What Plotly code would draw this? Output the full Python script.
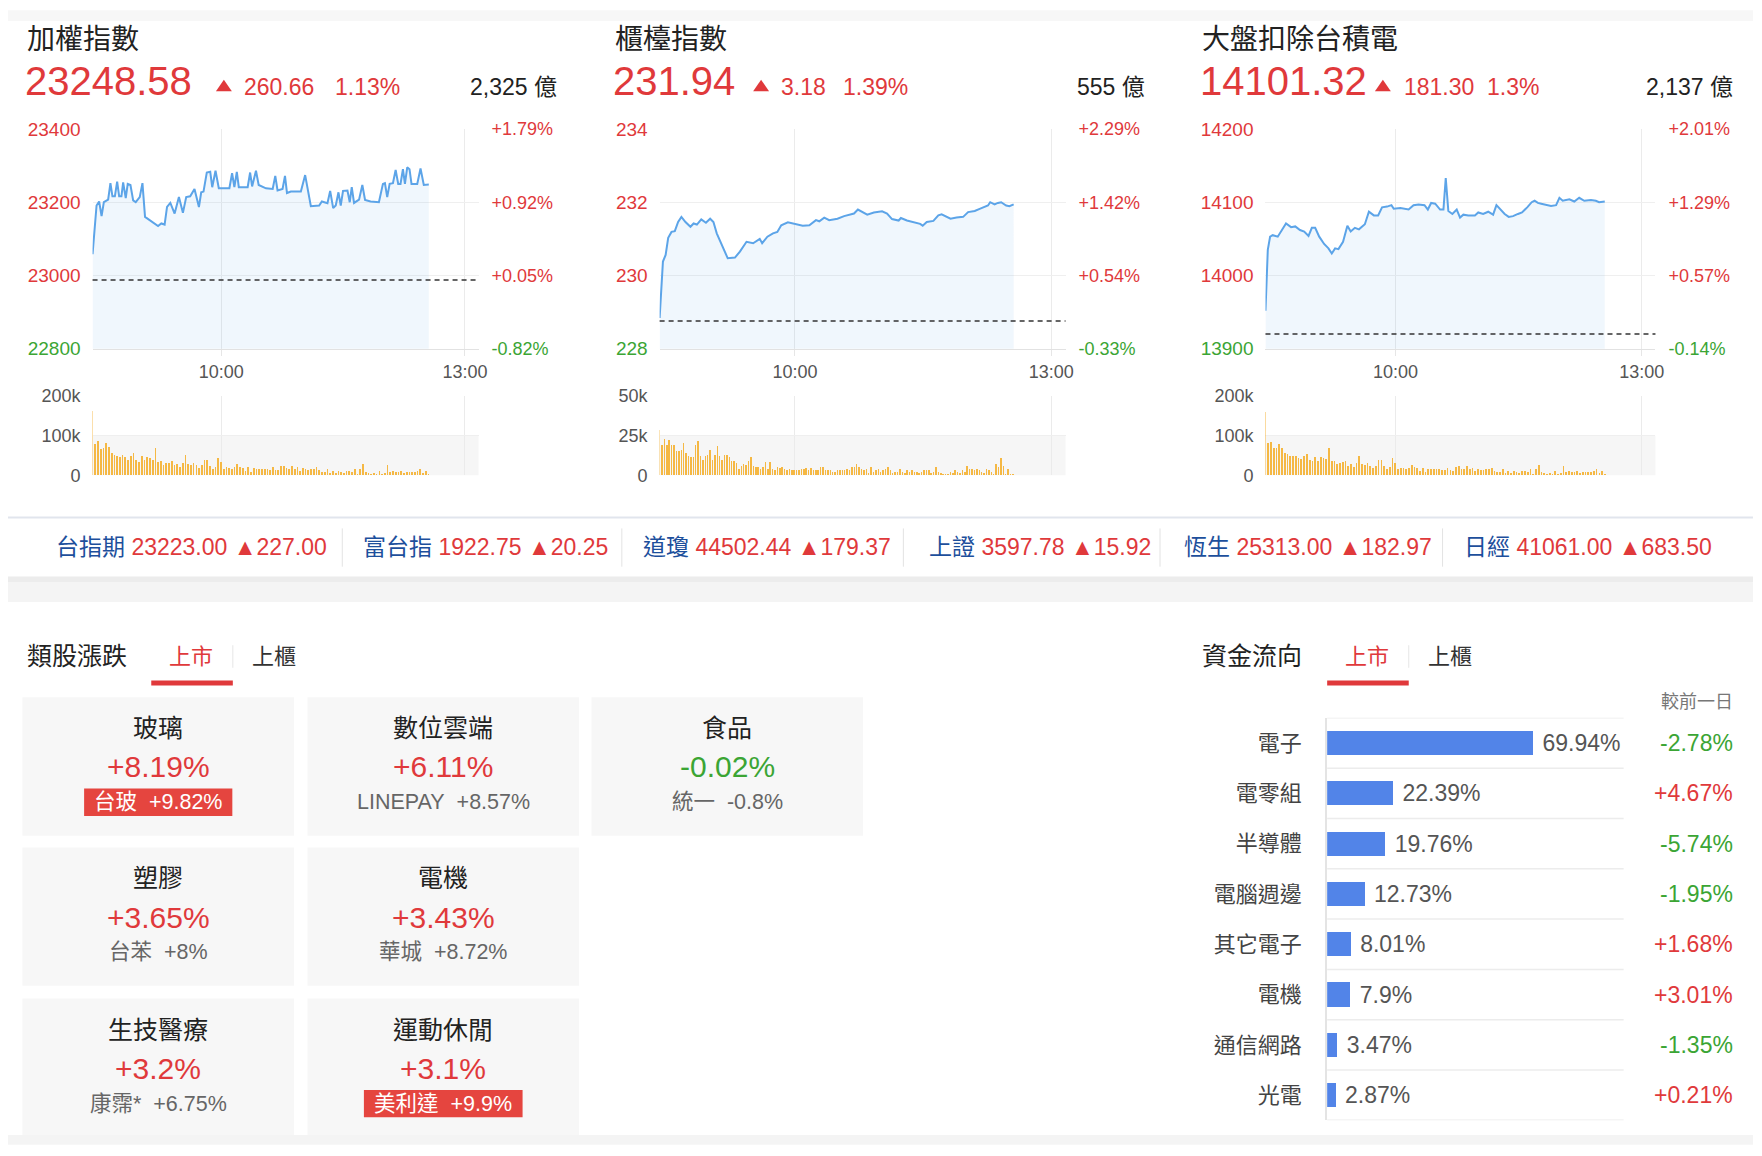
import plotly.graph_objects as go
import numpy as np

# page size and the browser's default body margin (the figure sits inside it)
W, H = 1762, 1156
OFF = 8
FW, FH = W - 2 * OFF, H - 2 * OFF

RED = "#e0393b"
GREEN = "#3ba534"
BLUE = "#1d4f9c"
DARK = "#222222"
GRAY = "#666666"
AXIS_TXT = "#555555"
LINE_C = "#5ca4e8"
FILL_C = "rgba(92,164,232,0.09)"
VOL_C = "#f5b844"
BAR_C = "#5284e8"
CARD_BG = "#f7f7f7"
FONT = "Liberation Sans, Noto Sans CJK TC, sans-serif"

# ---------------- data ----------------
index_names = ["加權指數", "櫃檯指數", "大盤扣除台積電"]
index_last = ["23248.58", "231.94", "14101.32"]
index_change = ["260.66", "3.18", "181.30"]
index_change_pct = ["1.13%", "1.39%", "1.3%"]
index_turnover = ["2,325 億", "555 億", "2,137 億"]
prev_close = [22987.92, 228.76, 13920.02]

price_ticks = [[22800, 23000, 23200, 23400], [228, 230, 232, 234], [13900, 14000, 14100, 14200]]
price_tick_text = [["22800", "23000", "23200", "23400"], ["228", "230", "232", "234"],
                   ["13900", "14000", "14100", "14200"]]
pct_tick_text = [["-0.82%", "+0.05%", "+0.92%", "+1.79%"], ["-0.33%", "+0.54%", "+1.42%", "+2.29%"],
                 ["-0.14%", "+0.57%", "+1.29%", "+2.01%"]]
vol_ticks = [[0, 100, 200], [0, 25, 50], [0, 100, 200]]
vol_tick_text = [["0", "100k", "200k"], ["0", "25k", "50k"], ["0", "100k", "200k"]]
session_len = 270
time_tick_pos = [90, 260.5]
time_tick_text = ["10:00", "13:00"]
vol_last_pos = 235

# 加權指數 intraday
taiex_t = [0, 2.8, 4.6, 6.3, 7.9, 10.9, 12.5, 13.9, 15.6, 17.2,
           18.6, 20.2, 21.4, 23.2, 24.6, 26.5, 28.4, 30.2, 33.0, 34.9,
           36.7, 41.1, 45.8, 48.1, 50.4, 52.1, 54.4, 57.4, 60.4, 63.2,
           65.5, 68.3, 71.3, 74.4, 76.0, 77.6, 79.9, 82.3, 83.7, 86.0,
           88.3, 95.7, 97.6, 99.2, 100.9, 102.3, 108.5, 110.2, 111.6, 114.3,
           116.2, 121.3, 126.0, 127.8, 129.4, 132.9, 134.6, 136.0, 138.7, 145.7,
           148.7, 152.7, 158.5, 160.4, 164.3, 166.2, 168.3, 170.1, 172.0, 173.6,
           175.2, 178.3, 179.9, 181.3, 182.9, 186.4, 188.7, 190.6, 194.5, 200.3,
           203.1, 204.5, 206.1, 207.8, 210.1, 212.0, 213.8, 215.4, 217.1, 218.5,
           220.1, 221.7, 223.1, 227.1, 229.4, 231.7, 235.2]
taiex_v = [23058, 23191, 23202, 23162, 23200, 23207, 23252, 23216, 23216, 23256,
           23216, 23216, 23254, 23211, 23250, 23247, 23205, 23200, 23214, 23252,
           23160, 23148, 23135, 23142, 23139, 23187, 23198, 23169, 23214, 23171,
           23214, 23216, 23236, 23187, 23227, 23229, 23281, 23283, 23241, 23286,
           23238, 23238, 23279, 23241, 23283, 23241, 23241, 23281, 23243, 23286,
           23247, 23238, 23236, 23272, 23232, 23236, 23272, 23225, 23229, 23229,
           23274, 23189, 23191, 23202, 23197, 23231, 23184, 23191, 23227, 23191,
           23231, 23232, 23200, 23241, 23198, 23207, 23247, 23206, 23202, 23200,
           23250, 23252, 23214, 23250, 23252, 23288, 23250, 23250, 23290, 23250,
           23295, 23290, 23250, 23250, 23292, 23247, 23248]

# 櫃檯指數 intraday
otc_t = [0, 2.2, 4.0, 5.7, 7.9, 10.1, 12.3, 14.5, 17.2, 20.5,
         22.6, 24.8, 27.7, 30.8, 33.6, 35.8, 38.0, 41.3, 45.3, 50.1,
         53.4, 57.8, 62.2, 66.6, 68.2, 71.7, 75.4, 78.3, 80.9, 85.3,
         90.8, 95.2, 99.6, 104.0, 106.2, 109.5, 112.8, 118.3, 122.7, 127.1,
         129.3, 131.9, 134.8, 138.1, 142.5, 148.0, 151.3, 154.6, 159.0, 160.5,
         164.5, 170.0, 173.3, 175.0, 177.7, 182.1, 185.4, 187.6, 190.4, 193.5,
         197.5, 201.9, 205.2, 209.6, 212.9, 216.2, 218.4, 219.9, 222.8, 225.0,
         227.2, 230.5, 232.7, 235.5]
otc_v = [228.84, 230.38, 230.56, 231.03, 231.19, 231.21, 231.46, 231.60, 231.46, 231.33,
         231.42, 231.39, 231.53, 231.44, 231.55, 231.46, 231.15, 230.83, 230.47, 230.49,
         230.65, 230.92, 230.88, 231.00, 230.88, 231.06, 231.15, 231.19, 231.37, 231.45,
         231.39, 231.36, 231.37, 231.51, 231.48, 231.58, 231.51, 231.55, 231.62, 231.66,
         231.69, 231.80, 231.73, 231.66, 231.72, 231.75, 231.69, 231.54, 231.50, 231.57,
         231.50, 231.45, 231.41, 231.36, 231.46, 231.49, 231.64, 231.67, 231.62, 231.55,
         231.58, 231.60, 231.73, 231.76, 231.82, 231.87, 231.91, 232.00, 231.94, 231.98,
         232.00, 231.91, 231.89, 231.94]

# 大盤扣除台積電 intraday
extsmc_t = [0, 1.6, 3.2, 5.0, 8.5, 10.8, 14.2, 17.7, 20.6, 23.9,
            26.8, 29.8, 32.1, 34.4, 37.2, 40.6, 43.6, 45.9, 48.2, 50.5,
            53.7, 56.7, 59.0, 61.9, 64.7, 68.8, 71.6, 75.0, 78.0, 80.7,
            84.2, 87.2, 88.8, 93.4, 99.1, 102.5, 106.0, 110.1, 112.4, 114.7,
            117.5, 120.9, 123.2, 124.8, 126.6, 129.4, 132.4, 134.7, 137.0, 140.4,
            145.0, 147.3, 150.7, 154.2, 157.6, 159.9, 162.9, 165.6, 168.4, 171.4,
            174.8, 177.6, 181.2, 184.3, 186.3, 188.6, 190.9, 193.6, 197.7, 201.2,
            203.5, 205.8, 210.4, 213.8, 217.2, 220.7, 225.3, 228.7, 231.0, 234.9]
extsmc_v = [13952, 14035, 14053, 14055, 14053, 14060, 14071, 14066, 14067, 14062,
            14060, 14054, 14065, 14065, 14053, 14043, 14037, 14030, 14037, 14036,
            14046, 14068, 14060, 14065, 14063, 14070, 14087, 14082, 14082, 14093,
            14094, 14096, 14091, 14092, 14090, 14096, 14097, 14096, 14090, 14099,
            14098, 14090, 14090, 14133, 14088, 14084, 14090, 14079, 14083, 14082,
            14082, 14086, 14084, 14087, 14083, 14096, 14090, 14084, 14080, 14081,
            14084, 14086, 14093, 14100, 14102, 14099, 14098, 14097, 14095, 14096,
            14106, 14102, 14104, 14101, 14106, 14102, 14103, 14102, 14100, 14101]

# volumes (k)
taiex_vol = [161, 80, 86, 66, 69, 81, 72, 57, 52, 49,
             47, 52, 46, 40, 49, 57, 40, 34, 49, 38,
             47, 44, 40, 69, 34, 37, 27, 32, 32, 37,
             25, 29, 21, 32, 52, 29, 25, 32, 25, 18,
             25, 40, 40, 24, 15, 20, 45, 34, 17, 20,
             18, 17, 20, 29, 21, 18, 12, 20, 8, 18,
             17, 17, 17, 17, 15, 13, 20, 13, 13, 24,
             24, 18, 17, 24, 17, 20, 12, 18, 15, 13,
             17, 17, 20, 13, 8, 8, 17, 7, 10, 5,
             10, 8, 5, 12, 10, 8, 17, 4, 17, 29,
             8, 5, 4, 7, 4, 12, 3, 7, 25, 8,
             10, 8, 8, 12, 5, 8, 8, 8, 8, 12,
             17, 7, 12, 3]
otc_vol = [28.4, 19.3, 23.1, 19.3, 22.5, 19.3, 19.3, 15.1, 15.1, 16.2,
           20.4, 14.1, 12.4, 11.6, 11.3, 19.3, 21.4, 12.4, 9.5, 12.0,
           13.0, 16.2, 9.5, 13.0, 18.3, 12.0, 9.5, 13.0, 13.0, 11.3,
           9.2, 9.2, 7.8, 4.0, 6.1, 7.4, 6.7, 9.2, 11.3, 6.1,
           5.3, 5.3, 4.0, 5.3, 8.2, 4.0, 8.2, 4.0, 3.6, 5.3,
           4.6, 5.3, 4.0, 3.2, 4.0, 3.2, 3.2, 3.2, 3.2, 4.0,
           4.0, 4.8, 3.2, 4.4, 3.2, 3.2, 3.2, 5.0, 5.0, 3.2,
           3.2, 3.2, 2.1, 2.1, 3.2, 3.2, 3.2, 3.2, 4.0, 3.6,
           5.0, 5.0, 7.1, 5.0, 4.0, 3.2, 4.0, 1.5, 5.0, 2.1,
           3.2, 4.0, 2.1, 3.2, 4.0, 5.0, 3.2, 1.5, 2.1, 2.1,
           4.0, 2.1, 1.5, 3.2, 2.1, 3.2, 2.1, 2.1, 1.5, 2.1,
           3.2, 3.2, 3.2, 1.5, 2.1, 5.0, 2.1, 1.5, 1.1, 1.1,
           1.1, 2.1, 1.5, 3.2, 2.1, 1.5, 3.2, 2.1, 6.1, 4.0,
           4.0, 3.2, 4.0, 3.2, 2.1, 1.5, 4.0, 3.2, 2.1, 1.1,
           7.1, 5.0, 10.9, 6.1, 1.1, 4.0, 1.1, 1.1]
extsmc_vol = [160, 82, 85, 68, 70, 80, 70, 56, 53, 48,
              48, 50, 45, 42, 48, 55, 40, 35, 47, 37,
              46, 44, 41, 70, 35, 36, 28, 31, 33, 36,
              24, 29, 22, 31, 50, 28, 26, 31, 24, 19,
              24, 38, 38, 23, 16, 20, 43, 32, 17, 19,
              18, 17, 19, 27, 20, 18, 12, 19, 9, 17,
              16, 17, 16, 17, 14, 13, 19, 13, 12, 22,
              23, 17, 16, 23, 16, 19, 12, 17, 14, 13,
              16, 16, 19, 12, 8, 8, 16, 7, 10, 5,
              10, 8, 5, 11, 10, 8, 16, 4, 16, 27,
              8, 5, 4, 7, 4, 11, 3, 7, 23, 8,
              10, 8, 8, 11, 5, 8, 8, 8, 8, 11,
              15, 7, 11, 4]

series_t = [taiex_t, otc_t, extsmc_t]
series_v = [taiex_v, otc_v, extsmc_v]
series_vol = [taiex_vol, otc_vol, extsmc_vol]

# tickers strip
ticker_names = ["台指期", "富台指", "道瓊", "上證", "恆生", "日經"]
ticker_values = ["23223.00", "1922.75", "44502.44", "3597.78", "25313.00", "41061.00"]
ticker_changes = ["227.00", "20.25", "179.37", "15.92", "182.97", "683.50"]

# sector cards
sector_names = ["玻璃", "數位雲端", "食品", "塑膠", "電機", "生技醫療", "運動休閒"]
sector_pct = ["+8.19%", "+6.11%", "-0.02%", "+3.65%", "+3.43%", "+3.2%", "+3.1%"]
leader_names = ["台玻", "LINEPAY", "統一", "台苯", "華城", "康霈*", "美利達"]
leader_pct = ["+9.82%", "+8.57%", "-0.8%", "+8%", "+8.72%", "+6.75%", "+9.9%"]
leader_limit_up = [True, False, False, False, False, False, True]

# fund flow
flow_sectors = ["電子", "電零組", "半導體", "電腦週邊", "其它電子", "電機", "通信網路", "光電"]
flow_share = [69.94, 22.39, 19.76, 12.73, 8.01, 7.9, 3.47, 2.87]
flow_change = ["-2.78%", "+4.67%", "-5.74%", "-1.95%", "+1.68%", "+3.01%", "-1.35%", "+0.21%"]

# ---------------- helpers (page pixel -> paper) ----------------
def PX(x):
    return (x - OFF) / FW


def PY(y):
    return 1 - (y - OFF) / FH


def xd(a, b):
    return [PX(a), PX(b)]


def yd(top, bottom):
    return [PY(bottom), PY(top)]


def lk(ax):
    return ax[0] + "axis" + ax[1:]


annotations = []
shapes = []


def ann(x, y, text, size, color, xanchor="left", yanchor="middle"):
    annotations.append(dict(xref="paper", yref="paper", x=PX(x), y=PY(y), text=text,
                            showarrow=False, xanchor=xanchor, yanchor=yanchor,
                            font=dict(size=size, color=color, family=FONT)))


def rect(x0, y0, x1, y1, color, layer="below"):
    shapes.append(dict(type="rect", xref="paper", yref="paper", x0=PX(x0), x1=PX(x1),
                       y0=PY(y1), y1=PY(y0), fillcolor=color, line=dict(width=0), layer=layer))


def seg(x0, y0, x1, y1, color, width=1):
    shapes.append(dict(type="line", xref="paper", yref="paper", x0=PX(x0), x1=PX(x1),
                       y0=PY(y0), y1=PY(y1), line=dict(color=color, width=width), layer="below"))


def tri(cx, cy, color):
    pts = [(cx - 8, cy + 5.5), (cx + 8, cy + 5.5), (cx, cy - 6)]
    path = "M " + " L ".join("%.5f,%.5f" % (PX(px), PY(py)) for px, py in pts) + " Z"
    shapes.append(dict(type="path", xref="paper", yref="paper", path=path, fillcolor=color,
                       line=dict(width=0), layer="above"))


def colored(text, color):
    return "<span style='color:%s'>%s</span>" % (color, text)


fig = go.Figure()
layout = dict(width=FW, height=FH, margin=dict(l=0, r=0, t=0, b=0), showlegend=False,
              paper_bgcolor="white", plot_bgcolor="rgba(0,0,0,0)", bargap=0,
              font=dict(family=FONT, color=DARK))

panels = [dict(px="x", py="y", pp="y2", vx="x2", vy="y3"),
          dict(px="x3", py="y4", pp="y5", vx="x4", vy="y6"),
          dict(px="x5", py="y7", pp="y8", vx="x6", vy="y9")]
plot_x = [(93, 481), (663, 1071), (1272, 1664)]
PRICE_Y = (121, 345)
VOL_Y = (393, 474)
vol_bar_w = [1.2, 1.0, 1.2]

for k, p in enumerate(panels):
    ticks = price_ticks[k]
    lo, hi = ticks[0], ticks[-1]
    tcol = [RED if v > prev_close[k] else GREEN for v in ticks]
    fig.add_trace(go.Scatter(x=series_t[k], y=series_v[k], mode="lines",
                             line=dict(color=LINE_C, width=2), fill="tozeroy", fillcolor=FILL_C,
                             xaxis=p["px"], yaxis=p["py"], hoverinfo="skip"))
    fig.add_trace(go.Scatter(x=[series_t[k][0]], y=[series_v[k][0]], mode="markers",
                             marker=dict(opacity=0), xaxis=p["px"], yaxis=p["pp"], hoverinfo="skip"))
    vx = np.linspace(0, vol_last_pos, len(series_vol[k]))
    fig.add_trace(go.Bar(x=vx, y=series_vol[k], width=vol_bar_w[k], marker=dict(color=VOL_C, line=dict(width=0)),
                         xaxis=p["vx"], yaxis=p["vy"], hoverinfo="skip"))

    xa = dict(domain=xd(*plot_x[k]), range=[0, session_len], tickmode="array",
              tickvals=time_tick_pos, ticktext=time_tick_text, showgrid=True, gridcolor="#ebebeb",
              ticks="outside", ticklen=6, tickcolor="#e6e6e6", tickfont=dict(size=18, color=AXIS_TXT),
              zeroline=False, showline=True, linecolor="#e2e2e2", anchor=p["py"], fixedrange=True,
              ticklabelstandoff=1)
    ya = dict(domain=yd(*PRICE_Y), range=[lo, hi], tickmode="array", tickvals=ticks,
              ticktext=[colored(t, c) for t, c in zip(price_tick_text[k], tcol)],
              showgrid=True, gridcolor="#efefef", ticks="", tickfont=dict(size=19),
              ticklabelstandoff=11, zeroline=False, anchor=p["px"], fixedrange=True)
    ypa = dict(domain=yd(*PRICE_Y), range=[lo, hi], tickmode="array", tickvals=ticks,
               ticktext=[colored(t, c) for t, c in zip(pct_tick_text[k], tcol)],
               overlaying=p["py"], side="right", showgrid=False, ticks="", tickfont=dict(size=18),
               ticklabelstandoff=12, zeroline=False, anchor=p["px"], fixedrange=True)
    vxa = dict(domain=xd(*plot_x[k]), range=[0, session_len], tickmode="array", tickvals=time_tick_pos,
               showticklabels=False, showgrid=True, gridcolor="#ebebeb", ticks="", zeroline=False,
               anchor=p["vy"], fixedrange=True)
    vya = dict(domain=yd(*VOL_Y), range=[0, vol_ticks[k][-1]], tickmode="array", tickvals=vol_ticks[k],
               ticktext=vol_tick_text[k], showgrid=True, gridcolor="#efefef", ticks="",
               tickfont=dict(size=18, color=AXIS_TXT), ticklabelstandoff=11, zeroline=False,
               anchor=p["vx"], fixedrange=True)
    layout[lk(p["px"])] = xa
    layout[lk(p["py"])] = ya
    layout[lk(p["pp"])] = ypa
    layout[lk(p["vx"])] = vxa
    layout[lk(p["vy"])] = vya
    shapes.append(dict(type="line", xref=p["px"] + " domain", x0=0, x1=1, yref=p["py"],
                       y0=prev_close[k], y1=prev_close[k], line=dict(color="#333333", width=1.5, dash="5px,4px"),
                       layer="above"))
    shapes.append(dict(type="rect", xref=p["vx"] + " domain", x0=0, x1=1, yref=p["vy"],
                       y0=0, y1=vol_ticks[k][1], fillcolor="#f6f6f6", line=dict(width=0), layer="below"))

# headers
HEAD = [dict(left=25, tri=225, chg=243, pct=335, amt=562),
        dict(left=616, tri=765, chg=783, pct=845, amt=1153),
        dict(left=1206, tri=1390, chg=1409, pct=1493, amt=1744)]
for k, hp in enumerate(HEAD):
    ann(hp["left"], 30, index_names[k], 28, DARK)
    ann(hp["left"] - 2, 72, index_last[k], 40, RED)
    tri(hp["tri"], 77, RED)
    ann(hp["chg"], 78, index_change[k], 23, RED)
    ann(hp["pct"], 78, index_change_pct[k], 23, RED)
    ann(hp["amt"], 78, index_turnover[k], 23, DARK, xanchor="right")

# top fade
rect(0, 0, W, 11, "#f7f7f7")

# ticker strip
seg(0, 517, W, 517, "#e1e5ed", 2)
rect(0, 577, W, 583, "#ececec")
rect(0, 583, W, 603, "#f4f4f4")
TICKER_X = [54, 363, 644, 932, 1188, 1470]
for i in range(len(ticker_names)):
    txt = colored(ticker_names[i], BLUE) + " " + ticker_values[i] + " ▲" + ticker_changes[i]
    ann(TICKER_X[i], 547, txt, 23, RED)
for sx in [344, 625, 908, 1166, 1450]:
    seg(sx, 528, sx, 567, "#e3e3e3", 1)

# section headings / tabs
for title, tx, tab1, tab2, u0, u1 in [("類股漲跌", 25, 192, 275, 152, 234),
                                      ("資金流向", 1206, 1374, 1457, 1334, 1416)]:
    ann(tx, 658, title, 25, DARK)
    ann(tab1, 658, "上市", 22, RED, xanchor="center")
    ann(tab2, 658, "上櫃", 22, "#333333", xanchor="center")
    rect(u0, 683, u1, 688, RED)
    seg(u1, 647, u1, 670, "#e6e6e6", 1)

# sector cards
CARD_X = [22.5, 309, 594.5]
CARD_Y = [700, 853, 1007]
CARD_W, CARD_HT = 273, 141
card_cells = [(0, 0), (0, 1), (0, 2), (1, 0), (1, 1), (2, 0), (2, 1)]
for i, (r, c) in enumerate(card_cells):
    x0, y0 = CARD_X[c], CARD_Y[r]
    cx = x0 + CARD_W / 2
    rect(x0, y0, x0 + CARD_W, y0 + CARD_HT, CARD_BG)
    ann(cx, y0 + 31.5, sector_names[i], 25, DARK, xanchor="center")
    pc = RED if sector_pct[i].startswith("+") else GREEN
    ann(cx, y0 + 71, sector_pct[i], 30, pc, xanchor="center")
    sub = leader_names[i] + "\u00a0\u00a0" + leader_pct[i]
    if leader_limit_up[i]:
        n_cjk = sum(1 for ch in leader_names[i] if ord(ch) > 0x2e80)
        bw = n_cjk * 22 + 12 + len(leader_pct[i]) * 11.5 + 24
        rect(cx - bw / 2, y0 + 93, cx + bw / 2, y0 + 121, "#e5453f")
        ann(cx, y0 + 107, sub, 21.5, "white", xanchor="center")
    else:
        ann(cx, y0 + 107, sub, 21.5, GRAY, xanchor="center")

# fund flow bar chart
n = len(flow_sectors)
fig.add_trace(go.Bar(orientation="h", x=flow_share, y=list(range(n)), width=0.48,
                     marker=dict(color=BAR_C, line=dict(width=0)),
                     text=["\u00a0" + str(v) + "%" for v in flow_share], textposition="outside",
                     textangle=0, constraintext="none", cliponaxis=False,
                     textfont=dict(size=23, color="#555555", family=FONT),
                     xaxis="x7", yaxis="y10", hoverinfo="skip"))
layout["xaxis7"] = dict(domain=xd(1334, 1632), range=[0, 100.7], showgrid=False, zeroline=False,
                        showticklabels=False, showline=False, anchor="y10", fixedrange=True)
layout["yaxis10"] = dict(domain=yd(721, 1131), range=[n - 0.5, -0.5], tickmode="array",
                         tickvals=list(range(n)), ticktext=flow_sectors, showline=True,
                         linecolor="#e4e4e4", linewidth=2, ticks="", ticklabelstandoff=19,
                         tickfont=dict(size=22, color="#444444"), showgrid=False, zeroline=False,
                         anchor="x7", fixedrange=True)
for i in range(n + 1):
    shapes.append(dict(type="line", xref="x7 domain", x0=0, x1=1, yref="y10", y0=i - 0.5, y1=i - 0.5,
                       line=dict(color="#ececec", width=1.5), layer="below"))
for i, ch in enumerate(flow_change):
    annotations.append(dict(xref="paper", x=PX(1744), yref="y10", y=i, text=ch, showarrow=False,
                            xanchor="right", yanchor="middle",
                            font=dict(size=23, color=RED if ch.startswith("+") else GREEN, family=FONT)))
ann(1744, 705, "較前一日", 18, "#777777", xanchor="right")

# bottom fade
rect(0, 1146, W, 1156, "#f4f4f4")

layout["annotations"] = annotations
layout["shapes"] = shapes
fig.update_layout(**layout)

fig.write_html("out.html", config={"displayModeBar": False, "staticPlot": True})
